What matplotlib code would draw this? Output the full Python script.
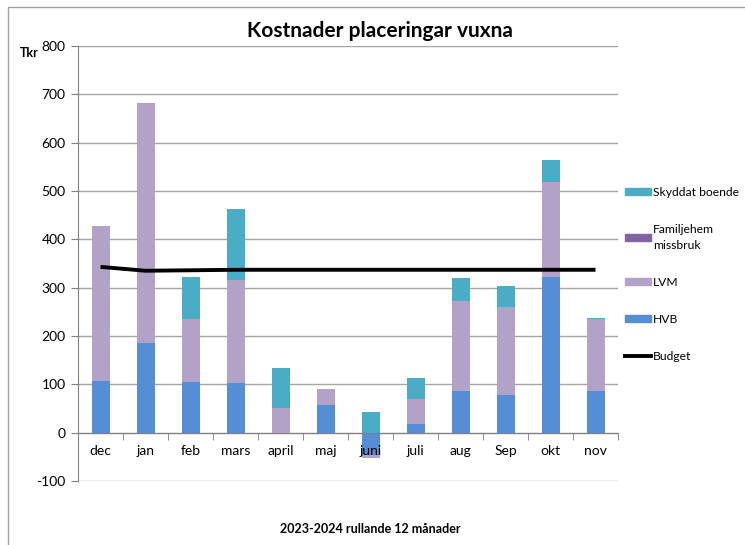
import matplotlib
matplotlib.use("Agg")
import matplotlib.pyplot as plt
import numpy as np
from matplotlib.patches import Patch, Rectangle
from matplotlib.lines import Line2D

plt.rcParams['font.family'] = ['Lato', 'DejaVu Sans']

months = ["dec", "jan", "feb", "mars", "april", "maj", "juni", "juli", "aug", "Sep", "okt", "nov"]
hvb = [107, 186, 105, 103, 0, 58, -46, 17, 86, 78, 323, 86]
lvm = [321, 496, 131, 213, 52, 33, -6, 53, 187, 181, 196, 149]
familjehem = [0, 0, 0, 0, 0, 0, 0, 0, 0, 0, 0, 0]
skyddat = [0, 0, 86, 147, 82, 0, 43, 44, 46, 45, 46, 2]
budget = [343, 335, 336, 337, 337, 337, 337, 337, 337, 337, 337, 337]
yticks = [-100, 0, 100, 200, 300, 400, 500, 600, 700, 800]

series = [("HVB", hvb, "#558ED5"), ("LVM", lvm, "#B3A2C7"),
          ("Familjehem\nmissbruk", familjehem, "#8064A2"),
          ("Skyddat boende", skyddat, "#4BACC6")]

fig = plt.figure(figsize=(7.45, 5.45), dpi=100)
ax = fig.add_axes([78/745, 1-481/545, 540/745, 435/545])

x = np.arange(len(months))
pos_bot = np.zeros(len(months))
neg_bot = np.zeros(len(months))
for name, vals, col in series:
    v = np.array(vals, dtype=float)
    bottoms = np.where(v >= 0, pos_bot, neg_bot)
    ax.bar(x, v, 0.4, bottom=bottoms, color=col, zorder=3)
    pos_bot = pos_bot + np.where(v >= 0, v, 0)
    neg_bot = neg_bot + np.where(v < 0, v, 0)

ax.plot(x, budget, color="black", lw=2.8, zorder=4, solid_capstyle='butt')

ax.set_xlim(-0.5, len(months) - 0.5)
ax.set_ylim(-100, 800)
ax.set_yticks(yticks)
ax.set_yticklabels([str(t) for t in yticks], fontsize=10)
ax.set_xticks(x)
ax.set_xticklabels(months, fontsize=10)
ax.set_xticks(np.arange(-0.5, len(months), 1), minor=True)
ax.tick_params(axis='x', which='major', length=0, pad=9)
ax.tick_params(axis='x', which='minor', length=5, color="#808080", direction='out')
ax.tick_params(axis='y', length=5, color="#808080", pad=4)
ax.grid(axis='y', color="#A6A6A6", lw=1)
ax.set_axisbelow(True)
ax.xaxis.set_zorder(5)
for s in ["top", "right"]:
    ax.spines[s].set_visible(False)
ax.spines["bottom"].set_position(("data", 0))
ax.spines["bottom"].set_color("#808080")
ax.spines["left"].set_color("#808080")
ax.spines["bottom"].set_zorder(5)

fig.text(380/745, 1-31/545, "Kostnader placeringar vuxna", fontsize=15, fontweight='bold',
         ha='center', va='center')
fig.text(20/745, 1-53/545, "Tkr", fontsize=9, fontweight='bold', ha='left', va='center')
fig.text(370/745, 1-529/545, "2023-2024 rullande 12 månader", fontsize=9, fontweight='bold',
         ha='center', va='center')

# frame
fig.patches.append(Rectangle((8/745, -0.05), 1.2, 1-7/545 + 0.05, transform=fig.transFigure,
                             fill=False, edgecolor="#A0A0A0", lw=1))

handles = [Patch(color="#4BACC6"), Patch(color="#8064A2"), Patch(color="#B3A2C7"),
           Patch(color="#558ED5"), Line2D([0], [0], color="black", lw=2.8)]
labels = ["Skyddat boende", "Familjehem\nmissbruk", "LVM", "HVB", "Budget"]
leg = fig.legend(handles, labels, loc='upper left', bbox_to_anchor=(620/745, 1-182/545),
                 frameon=False, fontsize=8.7, handlelength=2.2, handleheight=0.5,
                 handletextpad=0.15, labelspacing=2.15, borderaxespad=0)
leg.get_texts()[1].set_linespacing(1.6)

fig.savefig("out.png", dpi=100)
